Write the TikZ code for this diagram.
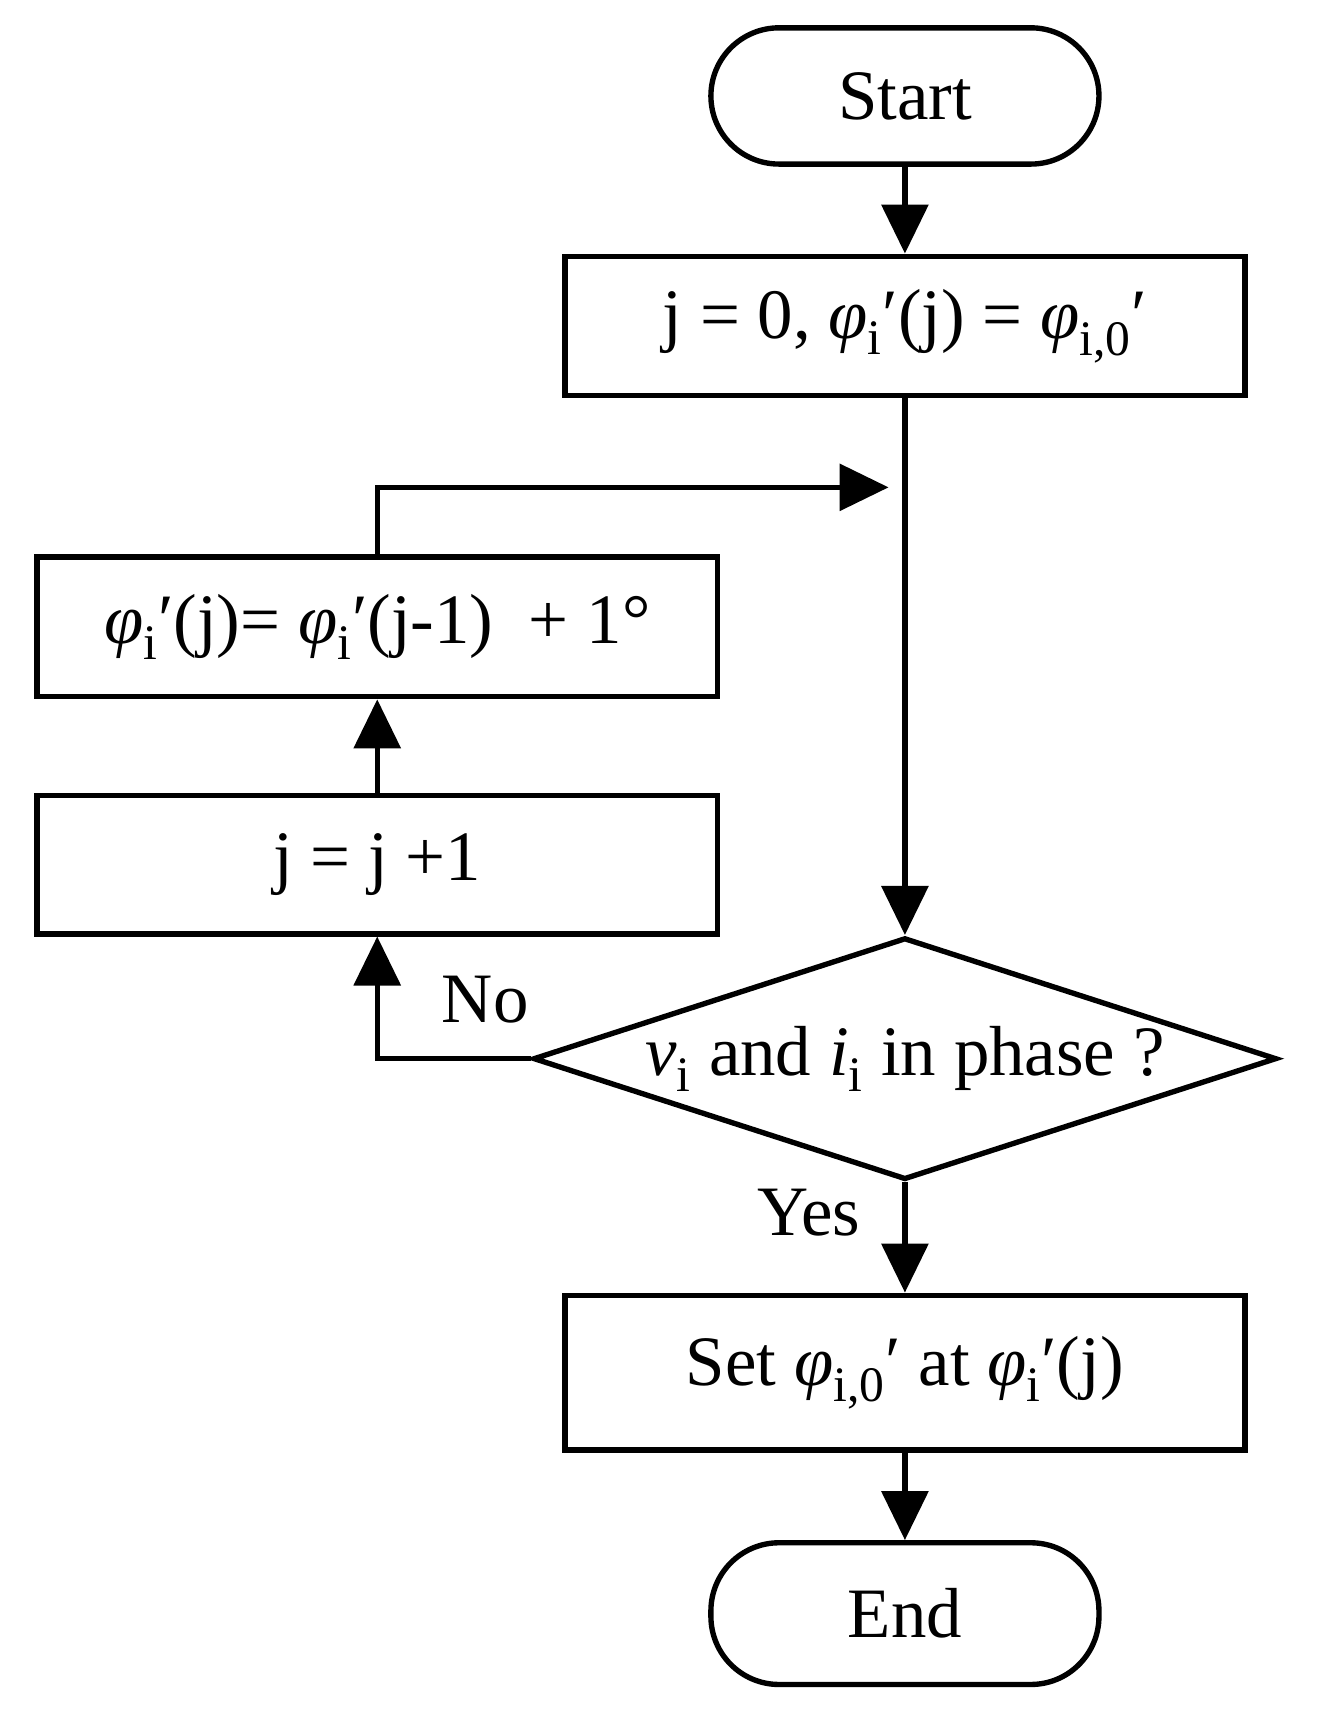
\documentclass[tikz,border=0pt]{standalone}
\usepackage{fontspec}
\setmainfont{Liberation Serif}
\usetikzlibrary{arrows.meta,shapes.geometric}
\begin{document}
\begin{tikzpicture}[x=0.02cm,y=-0.02cm,
  every node/.style={font=\fontsize{37}{44}\selectfont},
  line/.style={line width=2.8pt},
  arr/.style={line,-{Triangle[length=0.9cm,width=0.85cm]}},
  box/.style={draw,line width=2.8pt,minimum width=12.48cm,minimum height=2.56cm,inner sep=0},
  term/.style={draw,line width=2.8pt,rounded corners=1.25cm,minimum width=7.12cm,minimum height=2.5cm,inner sep=0}]
\useasboundingbox (0,0) rectangle (1209,1573);
\node[term] (start) at (830,88) {Start};
\node[box] (b1) at (830,299) {j = 0, \textit{φ}\textsubscript{i}′(j) = \textit{φ}\textsubscript{i,0}′};
\node[box] (b2) at (346,575) {\textit{φ}\textsubscript{i}′(j)= \textit{φ}\textsubscript{i}′(j-1)~ + 1°};
\node[box,minimum height=2.54cm] (b3) at (346,793) {j = j +1};
\node[draw,diamond,line width=2.8pt,minimum width=13.64cm,minimum height=4.44cm,inner sep=0] (d) at (830,971) {};
\node (dt) at (830,971) {\textit{v}\textsubscript{i} and \textit{i}\textsubscript{i} in phase ?};
\node[box,minimum height=2.84cm] (b4) at (830,1259) {Set \textit{φ}\textsubscript{i,0}′ at \textit{φ}\textsubscript{i}′(j)};
\node[term,minimum height=2.6cm] (end) at (830,1480) {End};
\coordinate (m) at (815,447);
\draw[arr] (start) -- (b1);
\draw[arr] (b1) -- (d.north);
\draw[arr] (d.west) -| (b3.south);
\draw[arr] (b3) -- (b2);
\draw[arr] (b2.north) |- (m);
\draw[arr] (d.south) -- (b4);
\draw[arr] (b4) -- (end);
\node (no) at (445,917) {No};
\node (yes) at (742,1112) {Yes};
\end{tikzpicture}
\end{document}
